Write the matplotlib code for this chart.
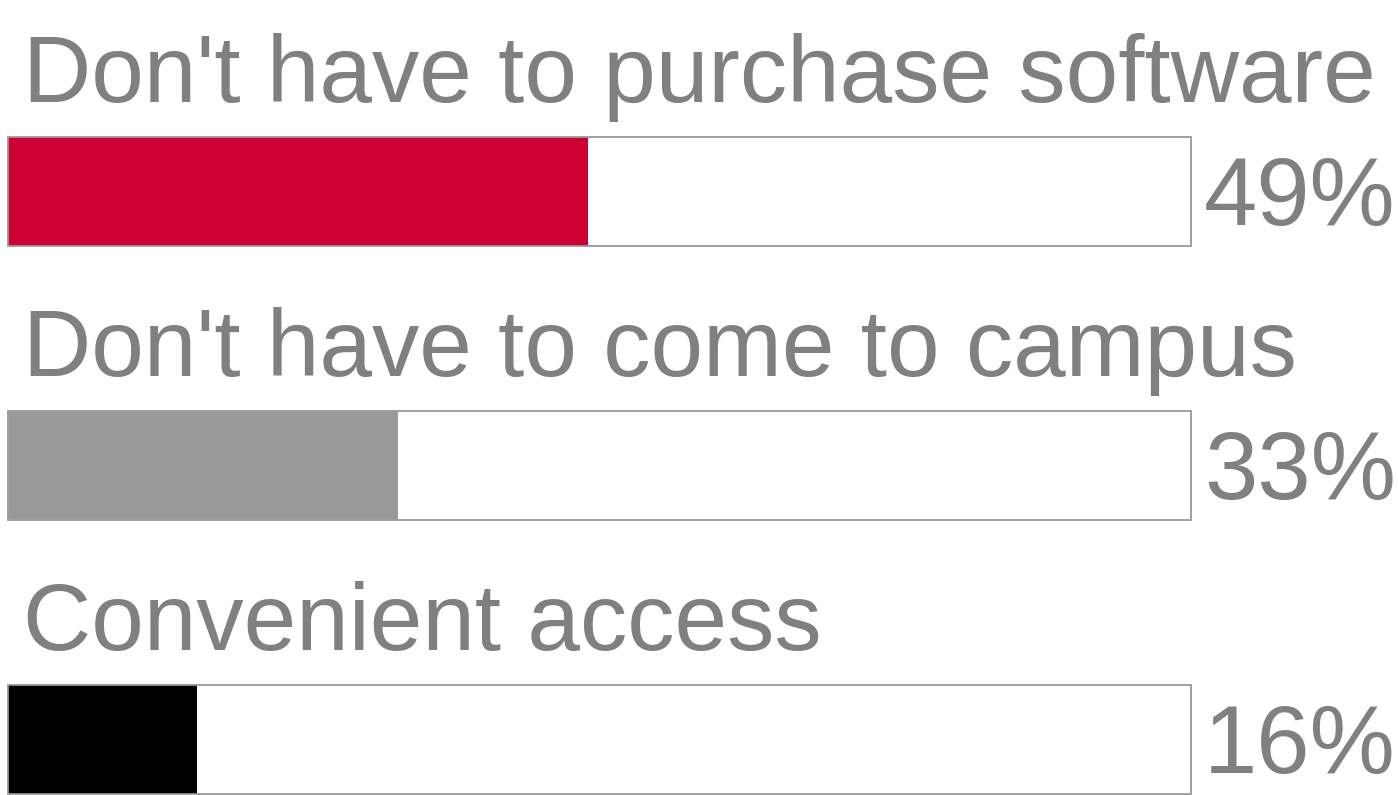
import matplotlib
matplotlib.use("Agg")
import matplotlib.pyplot as plt

categories = ["Don't have to purchase software",
              "Don't have to come to campus",
              "Convenient access"]
values = [49, 33, 16]
pct_labels = ["49%", "33%", "16%"]
bar_colors = ["#CC0033", "#999999", "#000000"]

TEXT_GRAY = "#808080"
OUTLINE = "#A0A0A0"

W, H, DPI = 1398, 795, 100
fig = plt.figure(figsize=(W / DPI, H / DPI), dpi=DPI)
ax = fig.add_axes([0, 0, 1, 1])

# pixel geometry of the track boxes
x0_px, x1_px = 8, 1191
pitch_px = 274
first_center_px = 191.5
bar_h_px = 109

ppu = (x1_px - x0_px) / 100.0
ax.set_xlim(-x0_px / ppu, (W - x0_px) / ppu)
ax.set_ylim((H - first_center_px) / pitch_px, -first_center_px / pitch_px)
ax.axis("off")

ypos = list(range(len(categories)))
bh = bar_h_px / pitch_px

# background track (100%) with outline, then filled value bar
ax.barh(ypos, [100] * len(ypos), height=bh, left=0, color="white",
        edgecolor=OUTLINE, linewidth=1.2, zorder=1)
ax.barh(ypos, values, height=bh, left=0, color=bar_colors,
        edgecolor="none", zorder=2)
ax.barh(ypos, [100] * len(ypos), height=bh, left=0, color="none",
        edgecolor=OUTLINE, linewidth=1.2, zorder=3)

pt = 72.0 / DPI
for i, (cat, lab) in enumerate(zip(categories, pct_labels)):
    # category label above the track
    ax.annotate(cat, xy=(0, i), xycoords="data",
                xytext=(15 * pt, (bar_h_px / 2 + 35) * pt),
                textcoords="offset points", ha="left", va="baseline",
                fontsize=68, color=TEXT_GRAY, family="Liberation Sans")
    # percentage at the right end of the track
    ax.annotate(lab, xy=(100, i), xycoords="data",
                xytext=(13 * pt, -34 * pt),
                textcoords="offset points", ha="left", va="baseline",
                fontsize=69, color=TEXT_GRAY, family="Liberation Sans")

fig.savefig("out.png", dpi=DPI)
